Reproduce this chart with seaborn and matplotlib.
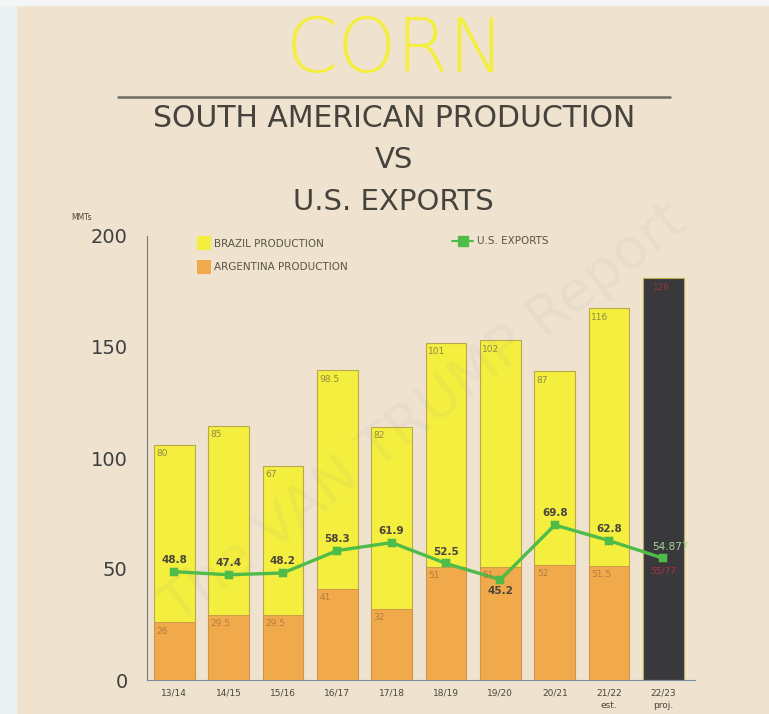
import pandas as pd
import seaborn as sns
import matplotlib.pyplot as plt
from matplotlib.patches import Patch, Rectangle
from matplotlib.lines import Line2D

# Data (MMTs)
seasons = ['13/14', '14/15', '15/16', '16/17', '17/18', '18/19', '19/20', '20/21', '21/22', '22/23']
tick_labels = ['13/14', '14/15', '15/16', '16/17', '17/18', '18/19', '19/20', '20/21', '21/22\nest.', '22/23\nproj.']
brazil = [80, 85, 67, 98.5, 82, 101, 102, 87, 116, 126]
argentina = [26, 29.5, 29.5, 41, 32, 51, 51, 52, 51.5, 55]
brazil_labels = ['80', '85', '67', '98.5', '82', '101', '102', '87', '116', '126']
argentina_labels = ['26', '29.5', '29.5', '41', '32', '51', '51', '52', '51.5', '55/77']
us_exports = [48.8, 47.4, 48.2, 58.3, 61.9, 52.5, 45.2, 69.8, 62.8, 54.8]
export_labels = ['48.8', '47.4', '48.2', '58.3', '61.9', '52.5', '45.2', '69.8', '62.8', '54.877']

df = pd.DataFrame({'season': seasons, 'brazil': brazil, 'argentina': argentina, 'exports': us_exports})
df['total'] = df['brazil'] + df['argentina']
# the projected season is drawn as one dark bar
df['argentina_hist'] = df['argentina'].where(df['season'] != '22/23')

bg = '#efe3cf'
yellow = '#f4ee3f'
orange = '#f0aa4b'
dark = '#39393d'
green = '#4fbb48'
text_col = '#4a463c'

sns.set_style('white')
plt.rcParams['font.family'] = ['DejaVu Sans']

fig = plt.figure(figsize=(7.69, 7.14), dpi=100, facecolor=bg)
fig.patches.append(Rectangle((0, 0), 16 / 769, 1, transform=fig.transFigure, color='#e9f1f2', zorder=0))
fig.patches.append(Rectangle((0, 1 - 5 / 714), 1, 5 / 714, transform=fig.transFigure, color='#f4f6f5', zorder=0))
ax = fig.add_axes([147 / 769, 34 / 714, 548 / 769, 444 / 714])
ax.set_facecolor(bg)

bar_colors = [yellow] * 9 + [dark]
sns.barplot(data=df, x='season', y='total', hue='season', palette=bar_colors, order=seasons,
            width=0.75, edgecolor='#b9a84e', linewidth=0.8, legend=False, ax=ax, zorder=2,
            saturation=1)
sns.barplot(data=df, x='season', y='argentina_hist', order=seasons, color=orange,
            width=0.75, edgecolor='#c8924a', linewidth=0.6, ax=ax, zorder=3, saturation=1)
sns.pointplot(data=df, x='season', y='exports', order=seasons, color=green, markers='s',
              markersize=5, linewidth=2.4, ax=ax, zorder=5)

# value labels inside the bars
for i, row in df.iterrows():
    if i < 9:
        ax.text(i - 0.33, row['total'] - 2, brazil_labels[i], fontsize=6.5, color='#8f8a45',
                va='top', ha='left', zorder=6)
        ax.text(i - 0.33, row['argentina'] - 2, argentina_labels[i], fontsize=6.5, color='#b27d3e',
                va='top', ha='left', zorder=6)
    else:
        ax.text(i - 0.2, row['total'] - 2, brazil_labels[i], fontsize=6.5, color='#8b3a3a',
                va='top', ha='left', zorder=6)
        ax.text(i - 0.25, row['argentina'] - 4, argentina_labels[i], fontsize=6.5, color='#b0303a',
                va='top', ha='left', zorder=6)

# export labels
for i, v in enumerate(us_exports):
    if i == 6:
        ax.text(i, v - 3, export_labels[i], fontsize=7.5, fontweight='bold', color=text_col,
                ha='center', va='top', zorder=7)
    elif i == 9:
        ax.text(i + 0.12, v + 3, export_labels[i], fontsize=7.5, color='#a9d59a',
                ha='center', va='bottom', zorder=7)
    else:
        ax.text(i, v + 3, export_labels[i], fontsize=7.5, fontweight='bold', color=text_col,
                ha='center', va='bottom', zorder=7)

ax.set_xlim(-0.375, 9.58)
ax.set_ylim(0, 200)
ax.set_yticks([0, 50, 100, 150, 200])
ax.set_xticks(range(len(seasons)))
ax.set_xticklabels(tick_labels, fontsize=6.5, color=text_col, linespacing=1.5)
ax.set_xticks([i + 0.5 for i in range(-1, 10)], minor=True)
ax.tick_params(axis='x', which='major', length=0, pad=6)
ax.tick_params(axis='x', which='minor', length=5, direction='in', color='#6f8fa8', width=1)
ax.tick_params(axis='y', length=10, direction='in', color='#7a7a7a', width=1,
               labelsize=14, labelcolor='#3f3f3f', pad=14)
ax.set_xlabel('')
ax.set_ylabel('')
sns.despine(ax=ax, top=True, right=True)
ax.spines['left'].set_color('#777777')
ax.spines['bottom'].set_color('#7d8ea0')
ax.text(-0.12, 1.035, 'MMTs', transform=ax.transAxes, fontsize=5.5, color=text_col, ha='center')

# faint watermark
ax.text(4.6, 120, 'The VAN TRUMP Report', fontsize=40, color='#9a9a9a', alpha=0.08,
        rotation=38, ha='center', va='center', zorder=4)

# legends
bar_handles = [Patch(facecolor=yellow, edgecolor='none', label='BRAZIL PRODUCTION'),
               Patch(facecolor=orange, edgecolor='none', label='ARGENTINA PRODUCTION')]
leg1 = ax.legend(handles=bar_handles, loc='upper left', bbox_to_anchor=(0.075, 1.02),
                 frameon=False, fontsize=7.5, handlelength=1.3, handleheight=1.6,
                 handletextpad=0.3, labelspacing=1.0, labelcolor='#5a5445')
ax.add_artist(leg1)
line_handle = [Line2D([0], [0], color=green, marker='s', markersize=7, linewidth=1.5,
                      label='U.S. EXPORTS')]
ax.legend(handles=line_handle, loc='upper left', bbox_to_anchor=(0.54, 1.02), frameon=False,
          fontsize=7.5, handlelength=2, handletextpad=0.4, labelcolor='#5a5445')

# titles
fig.text(0.514, 0.928, 'CORN', fontsize=54, color=yellow, ha='center', va='center', fontweight='light')
fig.add_artist(Line2D([118 / 769, 670 / 769], [0.864, 0.864], color='#6e6a62', linewidth=1.8))
fig.text(0.512, 0.834, 'SOUTH AMERICAN PRODUCTION', fontsize=21.5, color='#46433d',
         ha='center', va='center')
fig.text(0.512, 0.776, 'VS', fontsize=21, color='#46433d', ha='center', va='center')
fig.text(0.512, 0.717, 'U.S. EXPORTS', fontsize=21, color='#46433d', ha='center', va='center')

fig.savefig('out.png', dpi=100, facecolor=bg)
